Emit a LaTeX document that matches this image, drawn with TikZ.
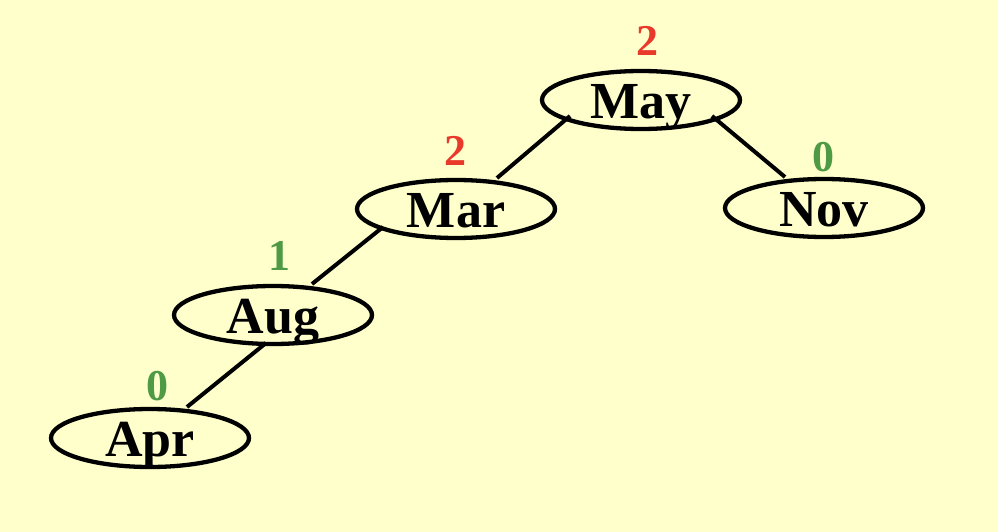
\documentclass[tikz,border=0pt]{standalone}
\usepackage{fontspec}
\setmainfont{Liberation Serif}
\usetikzlibrary{calc,shapes.geometric}
\definecolor{bgyellow}{HTML}{FFFFCC}
\definecolor{balred}{HTML}{E8392B}
\definecolor{balgreen}{HTML}{4F9A45}
\begin{document}
\begin{tikzpicture}[x=1pt,y=-1pt,
  treenode/.style={draw=black,line width=4.3pt,ellipse,minimum width=198pt,minimum height=58pt,
    inner sep=0pt,font=\fontsize{52}{52}\selectfont\bfseries,text height=36pt,text depth=0pt},
  balance/.style={anchor=base,inner sep=0pt,font=\fontsize{44}{44}\selectfont\bfseries},
  edge/.style={draw=black,line width=4pt}]
\fill[bgyellow] (0,0) rectangle (998,532);
\useasboundingbox (0,0) rectangle (998,532);
\node[treenode] (may) at (641,100) {May};
\node[treenode] (mar) at (456,209) {Mar};
\node[treenode] (nov) at (824,208) {Nov};
\node[treenode] (aug) at (273,315) {Aug};
\node[treenode] (apr) at (150,438) {Apr};
\node[balance,text=balred] (bmay) at (647,56) {2};
\node[balance,text=balred] (bmar) at (455,165) {2};
\node[balance,text=balgreen] (bnov) at (823,171) {0};
\node[balance,text=balgreen] (baug) at (279,270) {1};
\node[balance,text=balgreen] (bapr) at (157,400) {0};
\draw[edge] ($(may)+(-71,16)$) -- ($(mar)+(41,-31)$);
\draw[edge] ($(may)+(71,16)$) -- ($(nov)+(-39,-31)$);
\draw[edge] ($(mar)+(-73,18)$) -- ($(aug)+(39,-31)$);
\draw[edge] ($(aug)+(-7,28)$) -- ($(apr)+(37,-31)$);
\end{tikzpicture}
\end{document}
